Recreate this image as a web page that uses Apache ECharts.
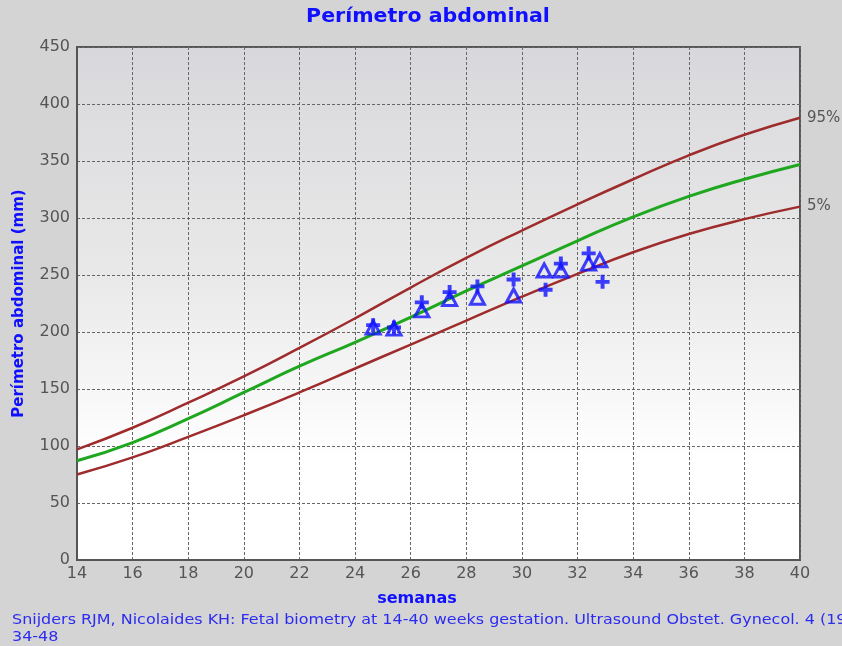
<!DOCTYPE html>
<html>
<head>
<meta charset="utf-8">
<script src="https://cdn.jsdelivr.net/npm/echarts@6/dist/echarts.min.js"></script>
<style>
html,body{margin:0;padding:0;background:#d4d4d4;}
#c{width:842px;height:646px;}
</style>
</head>
<body>
<div id="c"></div>
<script>
// Reference curves (weeks vs abdominal circumference, mm)
var weeks = [14,16,18,20,22,24,26,28,30,32,34,36,38,40];
var p95 = [97,116,138,161,186,212,239,265,289,312,334,355,373,388];
var p50 = [87,103,124,147,170,191,213,236,258,280,301,319,334,347];
var p5  = [75,90,108,127,147,168,189,210,231,251,270,286,299,310];

// Measurements
var triWeeks = [24.65,25.4,26.4,27.4,28.4,29.7,30.8,31.4,32.4,32.8];
var triVals  = [204,203,219,229,230,232,254,254,260,263];
var crossWeeks = [24.65,25.4,26.4,27.4,28.4,29.7,30.85,31.4,32.4,32.9];
var crossVals  = [206,204,226,235,240,246,237,260,269,244];

var xTicks = {min:14, max:40, step:2};
var yTicks = {min:0, max:450, step:50};

var titleText = 'Perímetro abdominal';
var xName = 'semanas';
var yName = 'Perímetro abdominal (mm)';
var citation1 = 'Snijders RJM, Nicolaides KH: Fetal biometry at 14-40 weeks gestation. Ultrasound Obstet. Gynecol. 4 (1994):';
var citation2 = '34-48';

function pairs(xs, ys){ return xs.map(function(x,i){ return [x, ys[i]]; }); }

var blue = '#1010ff';
var crossPath = 'path://M3.6,0 L6.4,0 L6.4,3.6 L10,3.6 L10,6.4 L6.4,6.4 L6.4,10 L3.6,10 L3.6,6.4 L0,6.4 L0,3.6 L3.6,3.6 Z';
var font = '"DejaVu Sans", Verdana, sans-serif';

var chart = echarts.init(document.getElementById('c'));
chart.setOption({
  backgroundColor: '#d4d4d4',
  animation: false,
  grid: {
    left: 77, right: 42, top: 47, bottom: 86,
    show: true, borderColor: '#555', borderWidth: 2,
    backgroundColor: {type:'linear', x:0, y:0, x2:0, y2:1, colorStops:[
      {offset:0, color:'#d8d8dc'}, {offset:0.45, color:'#e9e9e9'}, {offset:0.8, color:'#ffffff'}, {offset:1, color:'#ffffff'}]}
  },
  xAxis: {
    type: 'value', min: xTicks.min, max: xTicks.max, interval: xTicks.step,
    axisLine: {show: true, lineStyle: {color: '#555', width: 2}},
    axisTick: {show: false},
    axisLabel: {color: '#555', fontSize: 16, margin: 6, fontFamily: font},
    splitLine: {show: true, lineStyle: {color: '#666', type: [3,2], width: 1}}
  },
  yAxis: {
    type: 'value', min: yTicks.min, max: yTicks.max, interval: yTicks.step,
    name: yName, nameLocation: 'middle', nameGap: 50, nameRotate: 90,
    nameTextStyle: {color: blue, fontSize: 15, fontWeight: 'bold', fontFamily: font, padding: [0, 0, 0, 0]},
    axisLine: {show: true, lineStyle: {color: '#555', width: 2}},
    axisTick: {show: false},
    axisLabel: {color: '#555', fontSize: 16, margin: 7, fontFamily: font},
    splitLine: {show: true, lineStyle: {color: '#666', type: [3,2], width: 1}}
  },
  series: [
    {type:'line', name:'95%', data: pairs(weeks,p95), smooth:true, showSymbol:false,
     lineStyle:{color:'#9e2c2c', width:2.5},
     endLabel:{show:true, formatter:'95%', color:'#555', fontSize:15, distance:7, fontFamily: font}},
    {type:'line', name:'50%', data: pairs(weeks,p50), smooth:true, showSymbol:false,
     lineStyle:{color:'#1fa81f', width:3}},
    {type:'line', name:'5%', data: pairs(weeks,p5), smooth:true, showSymbol:false,
     lineStyle:{color:'#9e2c2c', width:2.5},
     endLabel:{show:true, formatter:'5%', color:'#555', fontSize:15, distance:7, fontFamily: font}},
    {type:'scatter', data: pairs(triWeeks,triVals), symbol:'triangle', symbolSize:[14,13],
     itemStyle:{color:'rgba(255,255,255,0)', borderColor: blue, borderWidth:3}, z:5},
    {type:'scatter', data: pairs(crossWeeks,crossVals), symbol: crossPath, symbolSize:[14,14],
     itemStyle:{color: blue}, z:6}
  ],
  graphic: [
    {type:'text', x: 428, y: 8, scaleX: 1.08, style:{text: titleText, fill: blue, fontSize: 19, fontWeight:'bold', fontFamily: font, align:'center'}},
    {type:'text', x: 417, y: 591, style:{text: xName, fill: blue, fontSize: 16, fontWeight:'bold', fontFamily: font, align:'center'}},
    {type:'text', x: 12, y: 613, scaleX: 1.14, style:{text: citation1, fill:'#2c2cf0', fontSize:14, fontFamily: font}},
    {type:'text', x: 12, y: 630, scaleX: 1.14, style:{text: citation2, fill:'#2c2cf0', fontSize:14, fontFamily: font}}
  ]
});
</script>
</body>
</html>
